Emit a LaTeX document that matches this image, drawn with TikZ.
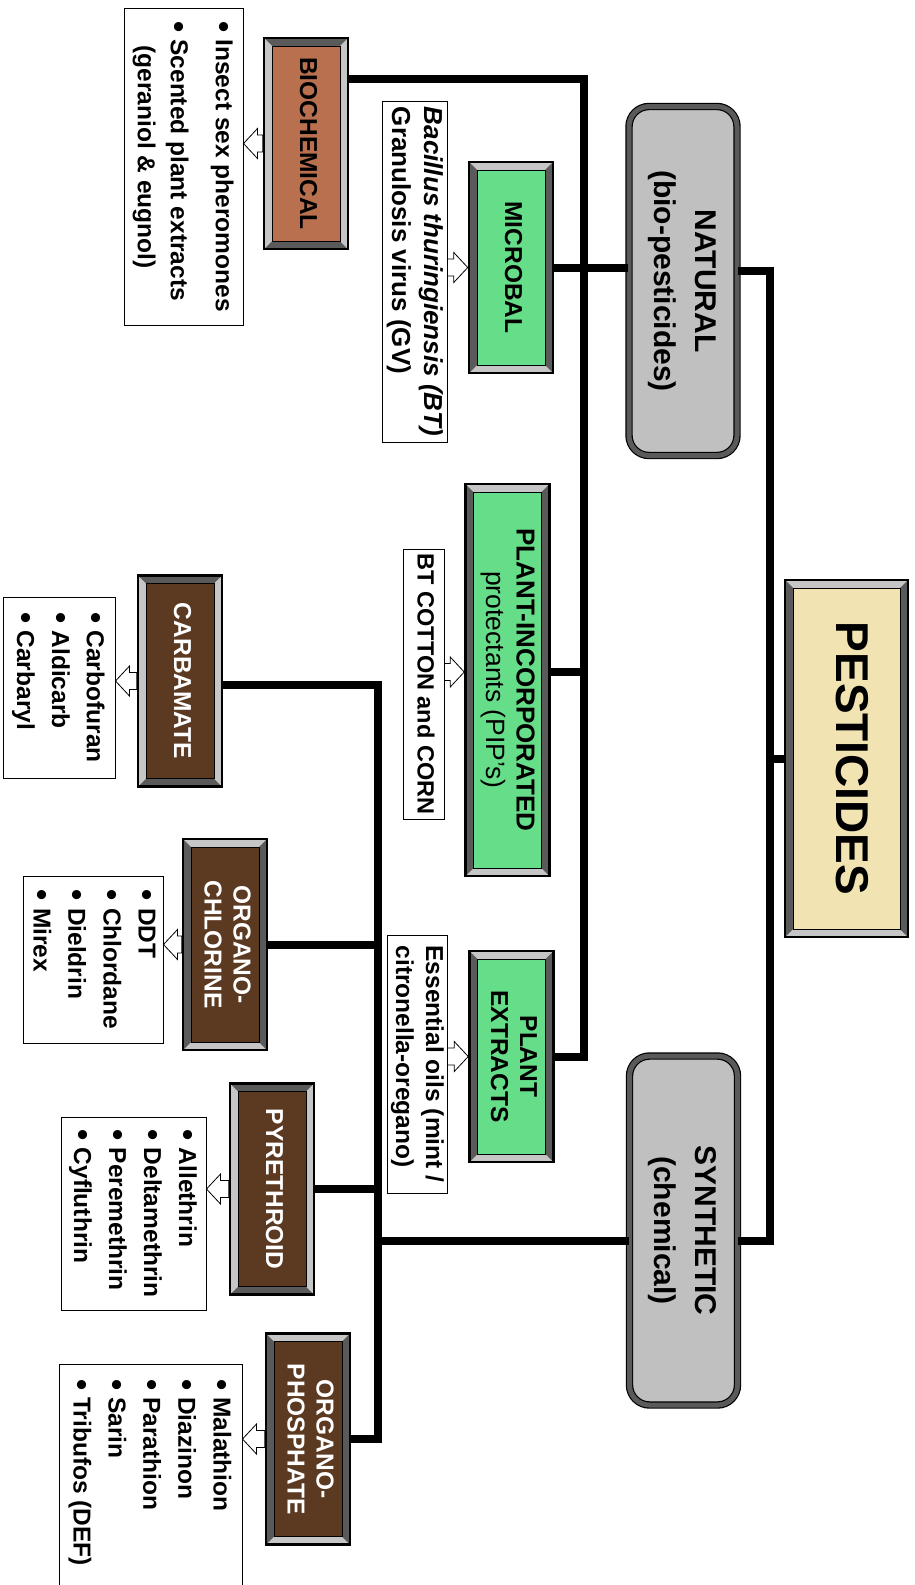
\documentclass[tikz,border=0pt]{standalone}
\usepackage{fontspec}
\setmainfont{Liberation Sans}
\usetikzlibrary{calc}
\definecolor{pestfill}{HTML}{F1E4B2}
\definecolor{groupfill}{HTML}{C0C0C0}
\definecolor{greenfill}{HTML}{66DD88}
\definecolor{biofill}{HTML}{B8704F}
\definecolor{chemfill}{HTML}{5C3A22}
\definecolor{bevlight}{HTML}{C6C6C6}
\definecolor{bevdark}{HTML}{5A5A5A}

% text turned a quarter turn, read top to bottom
\newcommand{\vtxt}[1]{\rotatebox{-90}{\begin{tabular}{@{}c@{}}#1\end{tabular}}}
\newcommand{\vleft}[1]{\rotatebox{-90}{\begin{tabular}{@{}l@{}}#1\end{tabular}}}
\newcommand{\vlist}[1]{\rotatebox{-90}{\begin{tabular}{@{}l@{\hspace{7pt}}l@{}}#1\end{tabular}}}
\newcommand{\blt}{\raisebox{-.08em}{\scalebox{1.3}{\textbullet}}}

\tikzset{
  wire/.style={line width=8pt},
  bevelbox/.style n args={3}{draw=black, line width=2.5pt, fill=#2, inner sep=0pt,
    minimum width=84pt, minimum height=211pt,
    font=\bfseries\fontsize{24.5}{29}\selectfont,
    path picture={
      \fill[#3] (path picture bounding box.south west) -- (path picture bounding box.north west)
        -- ++(8pt,-8pt) -- ([shift={(8pt,8pt)}]path picture bounding box.south west) -- cycle;
      \fill[#3] (path picture bounding box.south east) -- (path picture bounding box.north east)
        -- ++(-8pt,-8pt) -- ([shift={(-8pt,8pt)}]path picture bounding box.south east) -- cycle;
      \draw[black, line width=.8pt, fill=#1] ([shift={(8pt,8pt)}]path picture bounding box.south west)
        rectangle ([shift={(-8pt,-8pt)}]path picture bounding box.north east);
    }},
  catA/.style={bevelbox={#1}{bevlight}{bevdark}},
  catB/.style={bevelbox={#1}{bevdark}{bevlight}},
  groupbox/.style={draw=black, line width=1.2pt, double=bevdark, double distance=5pt,
    rounded corners=20pt, fill=groupfill, minimum width=108pt, minimum height=349pt,
    font=\bfseries\fontsize{30}{41}\selectfont},
  listbox/.style={draw=black, line width=1pt, fill=white, inner sep=0pt,
    font=\bfseries\fontsize{24.5}{35}\selectfont},
  blockarrow/.style={draw=black, line width=.8pt, fill=white, to path={
    ($(\tikztostart)!8.5pt!90:(\tikztotarget)$)
    -- ($($(\tikztotarget)!14pt!(\tikztostart)$)!8.5pt!90:(\tikztotarget)$)
    -- ($($(\tikztotarget)!14pt!(\tikztostart)$)!15pt!90:(\tikztotarget)$)
    -- (\tikztotarget)
    -- ($($(\tikztotarget)!14pt!(\tikztostart)$)!15pt!-90:(\tikztotarget)$)
    -- ($($(\tikztotarget)!14pt!(\tikztostart)$)!8.5pt!-90:(\tikztotarget)$)
    -- ($(\tikztostart)!8.5pt!-90:(\tikztotarget)$) -- cycle}},
}

\begin{document}
\begin{tikzpicture}[x=1pt,y=-1pt]
  \useasboundingbox (0,0) rectangle (914,1585);

  % top of the tree
  \node[catA=pestfill, minimum width=123pt, minimum height=357pt,
    font=\bfseries\fontsize{46}{50}\selectfont] (pest) at (846.5,758.5) {\vtxt{PESTICIDES}};
  \node[groupbox] (natural) at (683,281) {\vtxt{NATURAL\\(bio-pesticides)}};
  \node[groupbox] (synthetic) at (683.5,1230.5) {\vtxt{SYNTHETIC\\(chemical)}};

  % natural branch
  \node[catB=biofill] (bio) at (306,143.5) {\vtxt{BIOCHEMICAL}};
  \node[catA=greenfill] (microbal) at (511,267.5) {\vtxt{MICROBAL}};
  \node[catA=greenfill, minimum height=392pt, font=\bfseries\fontsize{26}{30}\selectfont] (pip)
    at (507.5,680) {\vtxt{PLANT-INCORPORATED\\\mdseries\fontsize{26.5}{30}\selectfont protectants (PIP's)}};
  \node[catA=greenfill] (extracts) at (511.5,1056.5) {\vtxt{PLANT\\EXTRACTS}};

  \node[listbox, minimum width=119pt, minimum height=317pt,
    font=\bfseries\fontsize{24.5}{33}\selectfont] (biolist) at (183.5,166.5)
    {\vlist{\blt & Insect sex pheromones\\[12pt]
            \blt & Scented plant extracts\\
                 & \hspace*{6pt}(geraniol \& eugnol)}};
  \node[listbox, minimum width=65pt, minimum height=341pt,
    font=\bfseries\fontsize{26}{32}\selectfont] (microlist) at (414.5,271.5)
    {\vleft{\itshape Bacillus thuringiensis (BT)\\Granulosis virus (GV)}};
  \node[listbox, minimum width=41pt, minimum height=270pt,
    font=\bfseries\fontsize{23.5}{30}\selectfont] (piplist) at (423.5,684)
    {\vleft{BT COTTON and CORN}};
  \node[listbox, minimum width=60pt, minimum height=258pt,
    font=\bfseries\fontsize{24.5}{30}\selectfont] (extlist) at (417,1064)
    {\vleft{Essential oils (mint /\\citronella-oregano)}};

  % synthetic branch
  \node[catB=chemfill, text=white] (carb) at (180,681) {\vtxt{CARBAMATE}};
  \node[catA=chemfill, text=white] (ochlor) at (225,944.5) {\vtxt{ORGANO-\\CHLORINE}};
  \node[catB=chemfill, text=white] (pyr) at (272,1189) {\vtxt{PYRETHROID}};
  \node[catA=chemfill, text=white] (ophos) at (308,1439) {\vtxt{ORGANO-\\PHOSPHATE}};

  \node[listbox, minimum width=112pt, minimum height=181pt] (carblist) at (59,687.5)
    {\vlist{\blt & Carbofuran\\ \blt & Aldicarb\\ \blt & Carbaryl}};
  \node[listbox, minimum width=132pt, minimum height=167pt] (ochlist) at (93,959.5)
    {\vlist{\blt & DDT\\ \blt & Chlordane\\ \blt & Dieldrin\\ \blt & Mirex}};
  \node[listbox, minimum width=145pt, minimum height=193pt] (pyrlist) at (133.5,1213.5)
    {\vlist{\blt & Allethrin\\ \blt & Deltamethrin\\ \blt & Peremethrin\\ \blt & Cyfluthrin}};
  \node[listbox, anchor=north, minimum width=183pt, minimum height=250pt] (ophlist) at (150.5,1364)
    {\vlist{\blt & Malathion\\ \blt & Diazinon\\ \blt & Parathion\\ \blt & Sarin\\
            \blt & Tribufos (DEF)\hspace*{34pt}}};

  % connectors
  \coordinate (rootbus) at (770,758.5);
  \draw[wire] ([yshift=10pt]natural.east) -| (rootbus) |- ([yshift=-10pt]synthetic.east);
  \draw[wire] (rootbus) -- (pest.west);

  \coordinate (natbus) at (584,79);
  \draw[wire] (bio.east |- natbus) -- (natbus) |- (extracts.east);
  \draw[wire] (microbal.east) -- (microbal.east -| natural.west);
  \draw[wire] ([yshift=8pt]pip.east) -- ([yshift=8pt]pip.east -| natbus);

  \coordinate (synbus) at (378,685);
  \draw[wire] (carb.east |- synbus) -- (synbus) |- (ophos.east);
  \draw[wire] (ochlor.east) -- (ochlor.east -| synbus);
  \draw[wire] (pyr.east) -- (pyr.east -| synbus);
  \draw[wire] ([yshift=-10pt]synthetic.west) -- ([yshift=-10pt]synthetic.west -| synbus);

  % hollow arrows
  \draw[blockarrow] (bio.west) to (bio.west -| biolist.east);
  \draw[blockarrow] (microbal.west -| microlist.east) to (microbal.west);
  \draw[blockarrow] ([yshift=12pt]piplist.east) to ([yshift=12pt]piplist.east -| pip.west);
  \draw[blockarrow] (extracts.west -| extlist.east) to (extracts.west);
  \draw[blockarrow] (carb.west) to (carb.west -| carblist.east);
  \draw[blockarrow] (ochlor.west) to (ochlor.west -| ochlist.east);
  \draw[blockarrow] (pyr.west) to (pyr.west -| pyrlist.east);
  \draw[blockarrow] (ophos.west) to (ophos.west -| ophlist.east);
\end{tikzpicture}
\end{document}
